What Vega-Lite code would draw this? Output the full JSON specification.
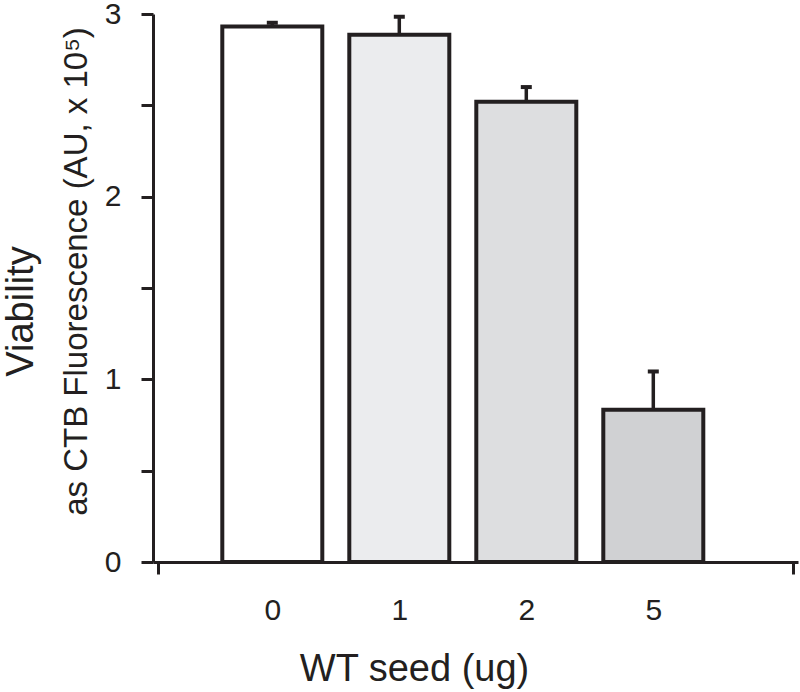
{
  "$schema": "https://vega.github.io/schema/vega-lite/v6.json",
  "width": 645,
  "height": 548,
  "autosize": {"type": "none"},
  "padding": {"left": 153, "top": 14, "right": 2, "bottom": 130},
  "background": "white",
  "config": {
    "view": {"stroke": null},
    "font": "Liberation Sans",
    "axis": {
      "domainColor": "#231f20",
      "domainWidth": 3,
      "tickColor": "#231f20",
      "tickWidth": 3,
      "labelColor": "#231f20",
      "titleColor": "#231f20",
      "grid": false,
      "labelFont": "Liberation Sans",
      "titleFont": "Liberation Sans",
      "titleFontWeight": "normal"
    }
  },
  "data": {
    "values": [
      {"pos": 1, "seed": "0", "viability": 2.932, "upper": 2.952},
      {"pos": 2, "seed": "1", "viability": 2.886, "upper": 2.985},
      {"pos": 3, "seed": "2", "viability": 2.52, "upper": 2.6},
      {"pos": 4, "seed": "5", "viability": 0.833, "upper": 1.043}
    ]
  },
  "encoding": {
    "x": {
      "field": "pos",
      "type": "quantitative",
      "scale": {"domain": [0.1, 5.1], "nice": false, "zero": false},
      "axis": {
        "values": [0.1, 1, 2, 3, 4, 5.1],
        "labelExpr": "datum.value == 1 ? '0' : datum.value == 2 ? '1' : datum.value == 3 ? '2' : datum.value == 4 ? '5' : ''",
        "tickOpacity": {"condition": {"test": "datum.value < 0.5 || datum.value > 5", "value": 1}, "value": 0},
        "tickSize": 12,
        "labelFontSize": 30,
        "labelPadding": 21,
        "labelOverlap": false,
        "labelFlush": false,
        "title": "WT seed (ug)",
        "titleFontSize": 38,
        "titlePadding": 25,
        "titleX": 261
      }
    }
  },
  "layer": [
    {
      "mark": {"type": "bar", "width": 100, "stroke": "#231f20", "strokeWidth": 4},
      "encoding": {
        "y": {
          "field": "viability",
          "type": "quantitative",
          "scale": {"domain": [0, 3], "nice": false},
          "axis": {
            "values": [0, 0.5, 1, 1.5, 2, 2.5, 3],
            "labelExpr": "datum.value % 1 == 0 ? format(datum.value, 'd') : ''",
            "tickSize": 12,
            "labelFontSize": 30,
            "labelPadding": 20,
            "title": "as CTB Fluorescence (AU, x 10⁵)",
            "titleFontSize": 33,
            "titlePadding": 11,
            "titleY": 257
          }
        },
        "fill": {
          "field": "seed",
          "type": "nominal",
          "scale": {"domain": ["0", "1", "2", "5"], "range": ["#ffffff", "#ebecee", "#dddee0", "#d0d1d3"]},
          "legend": null
        }
      }
    },
    {
      "mark": {"type": "rule", "strokeWidth": 3.5, "color": "#231f20"},
      "encoding": {
        "y": {
          "field": "viability",
          "type": "quantitative",
          "axis": {
            "orient": "left",
            "title": "Viability",
            "titleFontSize": 38,
            "domain": false,
            "ticks": false,
            "labels": false,
            "titlePadding": 113,
            "titleY": 297
          }
        },
        "y2": {"field": "upper"}
      }
    },
    {
      "mark": {"type": "tick", "orient": "horizontal", "size": 11, "thickness": 4, "color": "#231f20", "opacity": 1},
      "encoding": {
        "y": {"field": "upper", "type": "quantitative", "axis": null}
      }
    }
  ],
  "resolve": {"axis": {"y": "independent"}}
}
